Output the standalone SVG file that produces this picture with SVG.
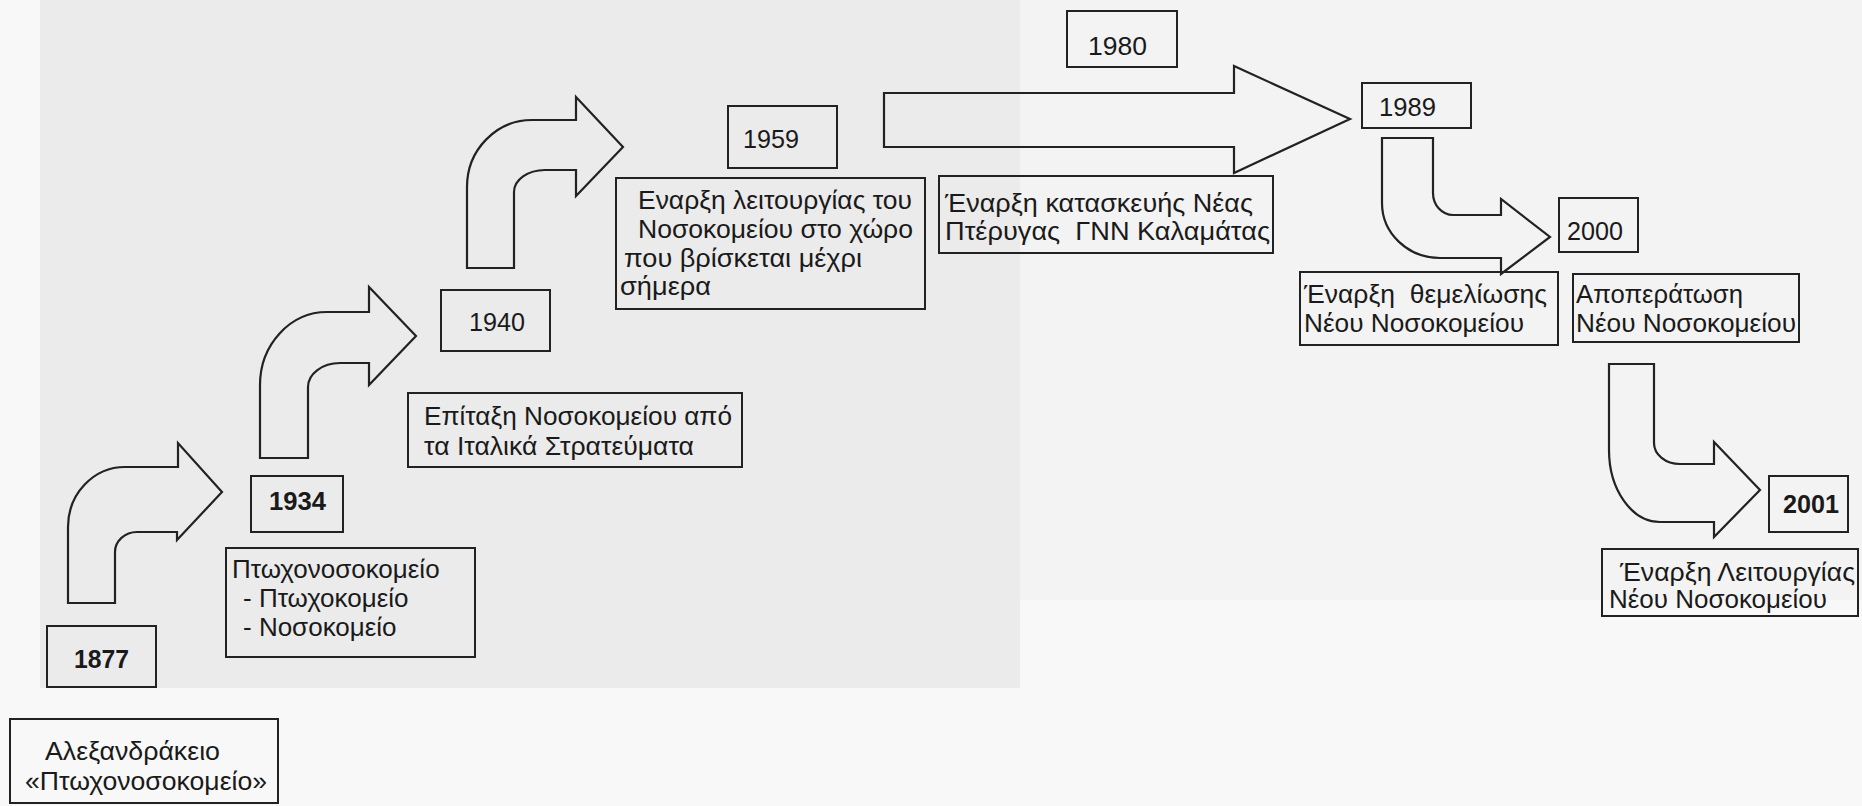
<svg xmlns="http://www.w3.org/2000/svg" width="1862" height="806" viewBox="0 0 1862 806">
<style>
.bx{fill:none;stroke:#222;stroke-width:2}
.ar{fill:none;stroke:#222;stroke-width:2.2;stroke-linejoin:miter}
text{font-family:"Liberation Sans",Arial,sans-serif;font-size:26px;fill:#1a1a1a}
.yr{font-size:25px}
.b{font-weight:bold}
</style>
<rect x="0" y="0" width="1862" height="806" fill="#f8f8f8"/>
<rect x="40" y="0" width="980" height="688" fill="#ebebeb"/>
<rect x="1020" y="0" width="842" height="600" fill="#f3f3f3"/>

<g id="connectors">
<path class="ar" d="M68,603 L68,527 A57,60 0 0 1 125,467 L178,467 L178,443 L222,492 L177,540 L177,532 L137,532 A22,20 0 0 0 115,552 L115,603 Z"/>
<path class="ar" d="M260,458 L260,385 A67,73 0 0 1 327,312 L369,312 L369,287 L416,336 L369,385 L369,363 L340,363 A32,24 0 0 0 308,387 L308,458 Z"/>
<path class="ar" d="M467,268 L467,187 A65,67 0 0 1 532,120 L576,120 L576,97 L623,147 L576,196 L576,170 L545,170 A31,22 0 0 0 514,192 L514,268 Z"/>
<path class="ar" d="M884,93 L1234,93 L1234,66 L1350,119 L1234,173 L1234,147 L884,147 Z"/>
<path class="ar" d="M1382,138 L1433,138 L1433,193 A20,22 0 0 0 1453,215 L1501,215 L1501,199 L1550,237 L1501,274 L1501,258 L1440,258 A58,55 0 0 1 1382,203 Z"/>
<path class="ar" d="M1609,364 L1654,364 L1654,443 A26,21 0 0 0 1680,464 L1714,464 L1714,442 L1760,490 L1714,537 L1714,522 L1660,522 A51,72 0 0 1 1609,450 Z"/>
</g>

<g id="n1877">
<rect class="bx" x="47" y="626" width="109" height="61"/>
<text class="yr b" x="74" y="668" textLength="55" lengthAdjust="spacingAndGlyphs">1877</text>
</g>
<g id="n1877-desc">
<rect class="bx" x="10" y="719" width="268" height="84"/>
<text x="45" y="760" textLength="175" lengthAdjust="spacingAndGlyphs">Αλεξανδράκειο</text>
<text x="25" y="790" textLength="242" lengthAdjust="spacingAndGlyphs">«Πτωχονοσοκομείο»</text>
</g>

<g id="n1934">
<rect class="bx" x="251" y="476" width="92" height="56"/>
<text class="yr b" x="269" y="510" textLength="57" lengthAdjust="spacingAndGlyphs">1934</text>
</g>
<g id="n1934-desc">
<rect class="bx" x="226" y="548" width="249" height="109"/>
<text x="232" y="578">Πτωχονοσοκομείο</text>
<text x="243" y="607">- Πτωχοκομείο</text>
<text x="243" y="636">- Νοσοκομείο</text>
</g>

<g id="n1940">
<rect class="bx" x="441" y="290" width="109" height="61"/>
<text class="yr" x="469" y="331" textLength="56" lengthAdjust="spacingAndGlyphs">1940</text>
</g>
<g id="n1940-desc">
<rect class="bx" x="408" y="393" width="334" height="74"/>
<text x="424" y="425" textLength="308" lengthAdjust="spacingAndGlyphs">Επίταξη Νοσοκομείου από</text>
<text x="424" y="455" textLength="270" lengthAdjust="spacingAndGlyphs">τα Ιταλικά Στρατεύματα</text>
</g>

<g id="n1959">
<rect class="bx" x="728" y="106" width="109" height="62"/>
<text class="yr" x="743" y="148" textLength="56" lengthAdjust="spacingAndGlyphs">1959</text>
</g>
<g id="n1959-desc">
<rect class="bx" x="616" y="178" width="309" height="131"/>
<text x="638" y="209" textLength="274" lengthAdjust="spacingAndGlyphs">Εναρξη λειτουργίας του</text>
<text x="638" y="238" textLength="275" lengthAdjust="spacingAndGlyphs">Νοσοκομείου στο χώρο</text>
<text x="624" y="267" textLength="238" lengthAdjust="spacingAndGlyphs">που βρίσκεται μέχρι</text>
<text x="620" y="295" textLength="91" lengthAdjust="spacingAndGlyphs">σήμερα</text>
</g>

<g id="n1980">
<rect class="bx" x="1067" y="11" width="110" height="56"/>
<text class="yr" x="1088" y="55" textLength="59" lengthAdjust="spacingAndGlyphs">1980</text>
</g>
<g id="n1980-desc">
<rect class="bx" x="939" y="176" width="334" height="77"/>
<text x="945" y="212" textLength="308" lengthAdjust="spacingAndGlyphs">Έναρξη κατασκευής Νέας</text>
<text x="945" y="240" textLength="325" lengthAdjust="spacingAndGlyphs" xml:space="preserve">Πτέρυγας  ΓΝΝ Καλαμάτας</text>
</g>

<g id="n1989">
<rect class="bx" x="1362" y="83" width="109" height="45"/>
<text class="yr" x="1379" y="116" textLength="57" lengthAdjust="spacingAndGlyphs">1989</text>
</g>
<g id="n1989-desc">
<rect class="bx" x="1300" y="272" width="258" height="73"/>
<text x="1304" y="303" textLength="243" lengthAdjust="spacingAndGlyphs" xml:space="preserve">Έναρξη  θεμελίωσης</text>
<text x="1304" y="332" textLength="220" lengthAdjust="spacingAndGlyphs">Νέου Νοσοκομείου</text>
</g>

<g id="n2000">
<rect class="bx" x="1559" y="198" width="79" height="54"/>
<text class="yr" x="1567" y="240" textLength="56" lengthAdjust="spacingAndGlyphs">2000</text>
</g>
<g id="n2000-desc">
<rect class="bx" x="1573" y="274" width="226" height="68"/>
<text x="1576" y="303" textLength="167" lengthAdjust="spacingAndGlyphs">Αποπεράτωση</text>
<text x="1576" y="332" textLength="220" lengthAdjust="spacingAndGlyphs">Νέου Νοσοκομείου</text>
</g>

<g id="n2001">
<rect class="bx" x="1769" y="476" width="79" height="56"/>
<text class="yr b" x="1783" y="513" textLength="56" lengthAdjust="spacingAndGlyphs">2001</text>
</g>
<g id="n2001-desc">
<rect class="bx" x="1602" y="549" width="256" height="67"/>
<text x="1620" y="581" textLength="235" lengthAdjust="spacingAndGlyphs">Έναρξη Λειτουργίας</text>
<text x="1609" y="608" textLength="218" lengthAdjust="spacingAndGlyphs">Νέου Νοσοκομείου</text>
</g>
</svg>
